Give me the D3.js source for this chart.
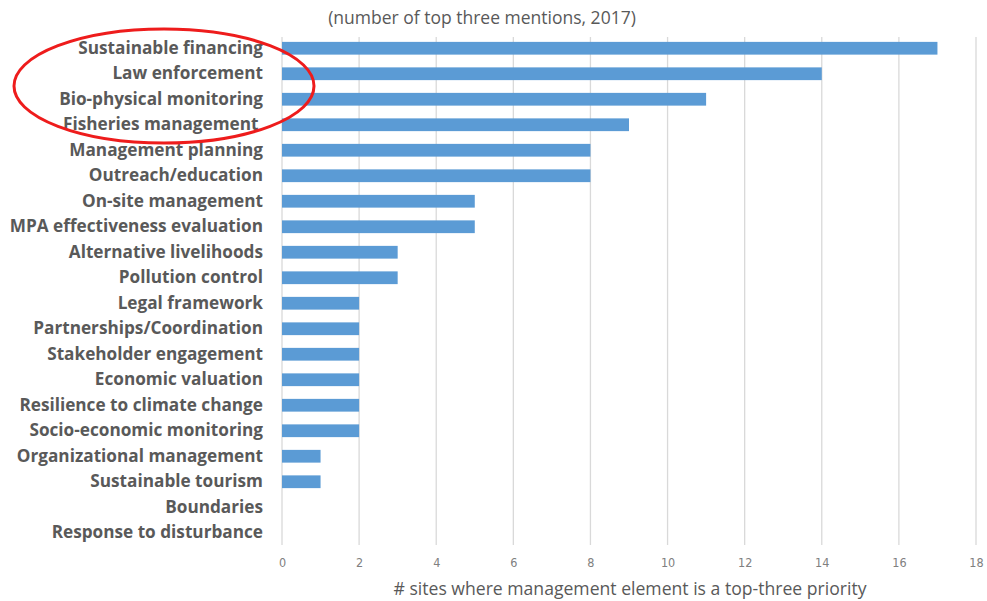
<!DOCTYPE html>
<html><head><meta charset="utf-8">
<script src="https://cdn.jsdelivr.net/npm/d3@7"></script>
<style>body{margin:0;background:#fff}svg{display:block}</style>
</head><body>
<svg id="c" width="987" height="601"></svg>
<script>
const categories = ["Sustainable financing","Law enforcement","Bio-physical monitoring","Fisheries management ","Management planning","Outreach/education","On-site management","MPA effectiveness evaluation","Alternative livelihoods","Pollution control","Legal framework","Partnerships/Coordination","Stakeholder engagement","Economic valuation","Resilience to climate change","Socio-economic monitoring","Organizational management","Sustainable tourism","Boundaries","Response to disturbance"];
const values = [17,14,11,9,8,8,5,5,3,3,2,2,2,2,2,2,1,1,0,0];
const xTicks = [0,2,4,6,8,10,12,14,16,18];
const title = "(number of top three mentions, 2017)";
const xTitle = "# sites where management element is a top-three priority";

const svg = d3.select("#c");
const x = d3.scaleLinear().domain([0,18]).range([282,976]);
const y = d3.scaleBand().domain(categories).range([35.5,545.5]).paddingInner(0.5).paddingOuter(0.25);

svg.append("g").selectAll("line").data(xTicks).join("line")
  .attr("x1",d=>x(d)).attr("x2",d=>x(d)).attr("y1",37).attr("y2",545)
  .attr("stroke","#d9d9d9").attr("stroke-width",1.3);

svg.append("g").selectAll("rect").data(values).join("rect")
  .attr("x",x(0)).attr("y",(d,i)=>y(categories[i]))
  .attr("width",d=>x(d)-x(0)).attr("height",y.bandwidth())
  .attr("fill","#5b9bd5");

const xa = svg.append("g").attr("transform","translate(0,545)")
  .call(d3.axisBottom(x).tickValues(xTicks).tickSize(0).tickPadding(13));
xa.select(".domain").remove();
xa.selectAll("text").attr("fill","#808080").style("font-family","'Liberation Sans Narrow','DejaVu Sans Condensed',sans-serif").style("font-size","12.5px");

const ya = svg.append("g").attr("transform","translate(263,0)")
  .call(d3.axisLeft(y).tickSize(0).tickPadding(0));
ya.select(".domain").remove();
ya.selectAll("text").attr("fill","#595959").style("font-family","'Open Sans',sans-serif").style("font-weight","700").style("font-size","17.2px").style("white-space","pre");

svg.append("text").attr("x",482).attr("y",24).attr("text-anchor","middle")
  .attr("fill","#595959").style("font-family","'Open Sans',sans-serif").style("font-size","17.5px").text(title);
svg.append("text").attr("x",630).attr("y",595).attr("text-anchor","middle")
  .attr("fill","#595959").style("font-family","'Open Sans',sans-serif").style("font-size","17.6px").text(xTitle);

svg.append("ellipse").attr("cx",164).attr("cy",86).attr("rx",150).attr("ry",57)
  .attr("fill","none").attr("stroke","#ee1c1c").attr("stroke-width",3);
</script>
</body></html>
